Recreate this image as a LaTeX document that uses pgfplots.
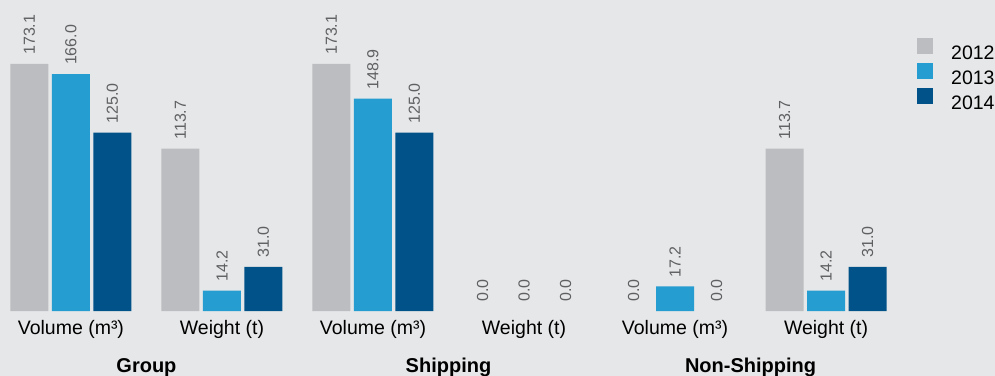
\documentclass[border=0pt]{standalone}
\usepackage{fontspec}
\setmainfont{Liberation Sans}
\usepackage{pgfplots}
\pgfplotsset{compat=1.18}
\definecolor{bg}{RGB}{230,231,232}
\definecolor{cA}{RGB}{188,189,192}
\definecolor{cB}{RGB}{38,157,208}
\definecolor{cC}{RGB}{0,82,136}
\definecolor{vlab}{RGB}{95,96,98}
\begin{document}
\begin{tikzpicture}
\fill[bg] (0,0) rectangle (995bp,376bp);
\useasboundingbox (0,0) rectangle (995bp,376bp);
\begin{axis}[
  at={(9bp,65bp)}, anchor=south west,
  scale only axis, width=879bp, height=285.4bp,
  xmin=-0.41, xmax=5.41, ymin=0, ymax=200,
  ybar, bar width=38bp,
  axis lines*=left, axis line style={draw=none},
  ytick=\empty, xtick={0,...,5}, major tick length=0pt,
  xticklabels={Volume (m³),Weight (t),Volume (m³),Weight (t),Volume (m³),Weight (t)},
  typeset ticklabels with strut=false,
  xticklabel style={anchor=base, inner sep=0pt, yshift=-23bp, font=\fontsize{19.5bp}{22bp}\selectfont, text=black},
  clip=false,
  nodes near coords,
  nodes near coords style={rotate=90, anchor=west, inner sep=0pt, xshift=9bp, font=\fontsize{16bp}{18bp}\selectfont, text=vlab, /pgf/number format/.cd, fixed, fixed zerofill, precision=1, assume math mode=true},
  legend style={at={(axis description cs:1,1)}, anchor=north west, xshift=29bp, yshift=-12bp,
    draw=none, fill=none, inner sep=0pt, row sep=3bp, font=\fontsize{19.5bp}{22bp}\selectfont,
    nodes={inner sep=0pt, text height=14bp, text depth=0bp}},
  legend cell align=left,
  legend image code/.code={\fill[#1] (0bp,-1bp) rectangle (16bp,15bp); \path (34bp,0);},
]
\addplot[fill=cA, draw=none, bar shift=-41.5bp] coordinates {(0,173.1) (1,113.7) (2,173.1) (5,113.7)};
\addplot[fill=cB, draw=none, bar shift=0bp] coordinates {(0,166.0) (1,14.2) (2,148.9) (4,17.2) (5,14.2)};
\addplot[fill=cC, draw=none, bar shift=41.5bp] coordinates {(0,125.0) (1,31.0) (2,125.0) (5,31.0)};
\legend{2012,2013,2014}
\addplot[fill=none, draw=none, bar shift=-41.5bp, forget plot] coordinates {(3,0) (4,0)};
\addplot[fill=none, draw=none, bar shift=0bp, forget plot] coordinates {(3,0)};
\addplot[fill=none, draw=none, bar shift=41.5bp, forget plot] coordinates {(3,0) (4,0)};
\node[anchor=base, font=\fontsize{20bp}{22bp}\selectfont\bfseries] at (axis cs:0.5,0) [yshift=-61bp] {Group};
\node[anchor=base, font=\fontsize{20bp}{22bp}\selectfont\bfseries] at (axis cs:2.5,0) [yshift=-61bp] {Shipping};
\node[anchor=base, font=\fontsize{20bp}{22bp}\selectfont\bfseries] at (axis cs:4.5,0) [yshift=-61bp] {Non-Shipping};
\end{axis}
\end{tikzpicture}
\end{document}
